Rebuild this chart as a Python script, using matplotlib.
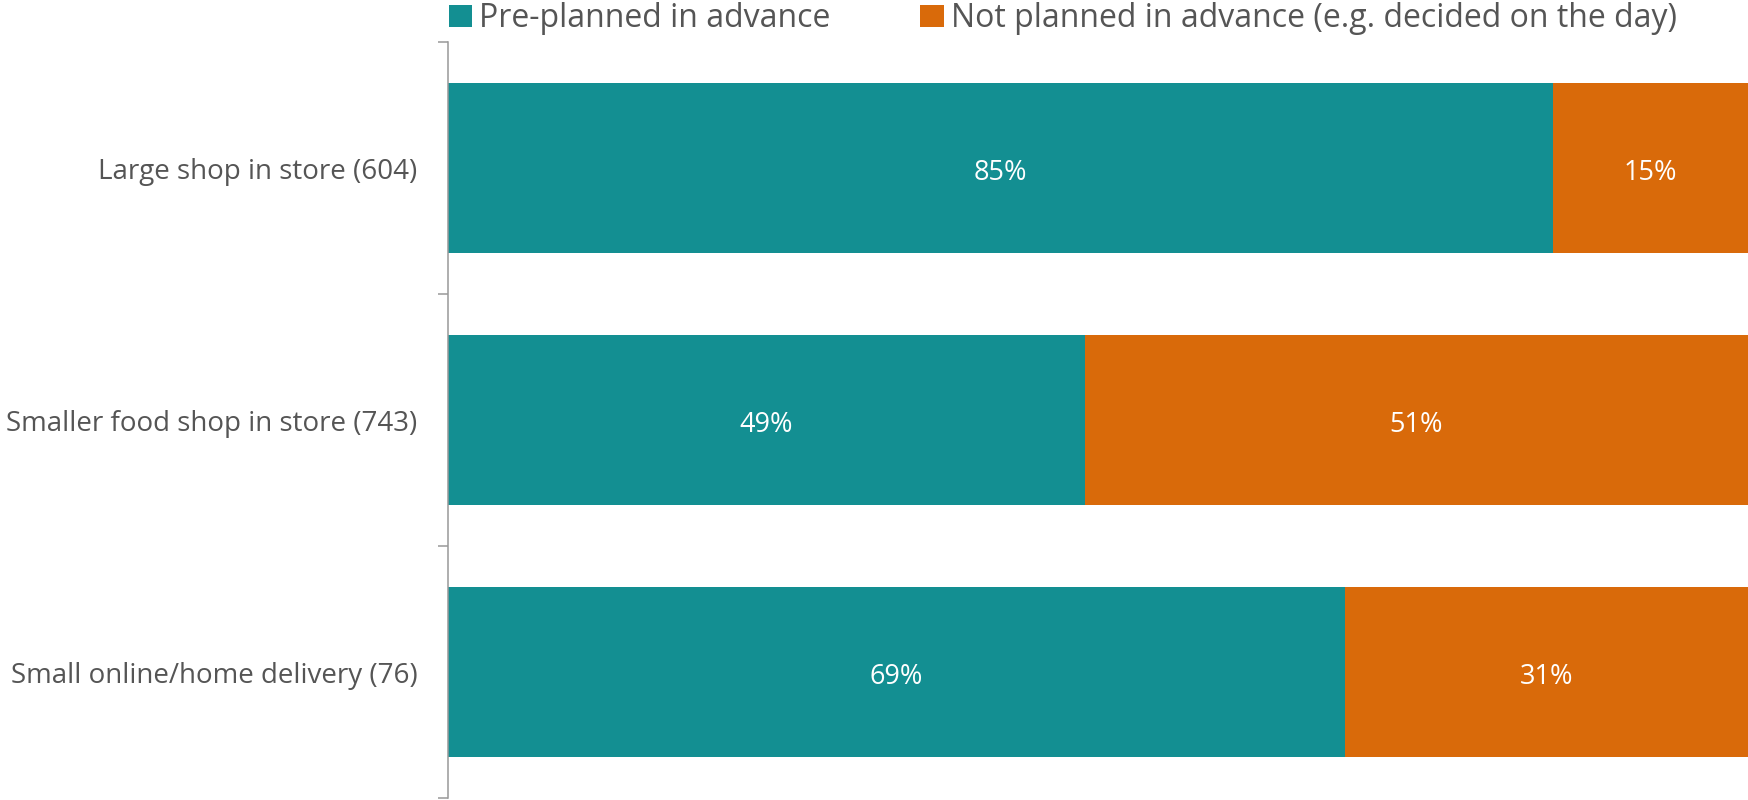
import numpy as np
import matplotlib.pyplot as plt

plt.rcParams['font.family'] = ['Open Sans', 'DejaVu Sans']

categories = ['Large shop in store (604)', 'Smaller food shop in store (743)',
              'Small online/home delivery (76)']
pre_planned = [85, 49, 69]
not_planned = [15, 51, 31]
series_names = ['Pre-planned in advance', 'Not planned in advance (e.g. decided on the day)']
colors = ['#138F92', '#D96A0A']
text_color = '#555555'

fig = plt.figure(figsize=(17.48, 8), dpi=100)
ax = fig.add_axes([448 / 1748, 2 / 800, 1 - 448 / 1748, 756 / 800])

y = np.arange(len(categories))
b1 = ax.barh(y, pre_planned, height=0.675, color=colors[0], label=series_names[0])
b2 = ax.barh(y, not_planned, left=pre_planned, height=0.675, color=colors[1], label=series_names[1])

# value labels in the middle of each segment
for i in range(len(categories)):
    ax.text(pre_planned[i] / 2, y[i] + 0.02, f'{pre_planned[i]}%', ha='center', va='center',
            color='white', fontsize=19.5)
    ax.text(pre_planned[i] + not_planned[i] / 2, y[i] + 0.02, f'{not_planned[i]}%',
            ha='center', va='center', color='white', fontsize=19.5)

ax.set_xlim(0, 100)
ax.set_ylim(2.5, -0.5)
ax.set_yticks(y)
ax.set_yticklabels(categories, fontsize=20, color=text_color)
ax.set_yticks([-0.5, 0.5, 1.5, 2.5], minor=True)
ax.tick_params(axis='y', which='major', length=0, pad=22)
ax.tick_params(axis='y', which='minor', length=7, width=1.1, color='#999999')
ax.set_xticks([])
for s in ['top', 'right', 'bottom']:
    ax.spines[s].set_visible(False)
ax.spines['left'].set_color('#999999')
ax.spines['left'].set_linewidth(1.1)

leg = fig.legend(handles=[b1, b2], labels=series_names, loc='upper left',
                 bbox_to_anchor=(449 / 1748, 1 - 2 / 800), ncol=2, frameon=False,
                 fontsize=23, handlelength=0.73, handleheight=0.66, handletextpad=0.21,
                 columnspacing=2.82, borderaxespad=0, borderpad=0)
for t in leg.get_texts():
    t.set_color(text_color)

fig.savefig('out.png', dpi=100)
